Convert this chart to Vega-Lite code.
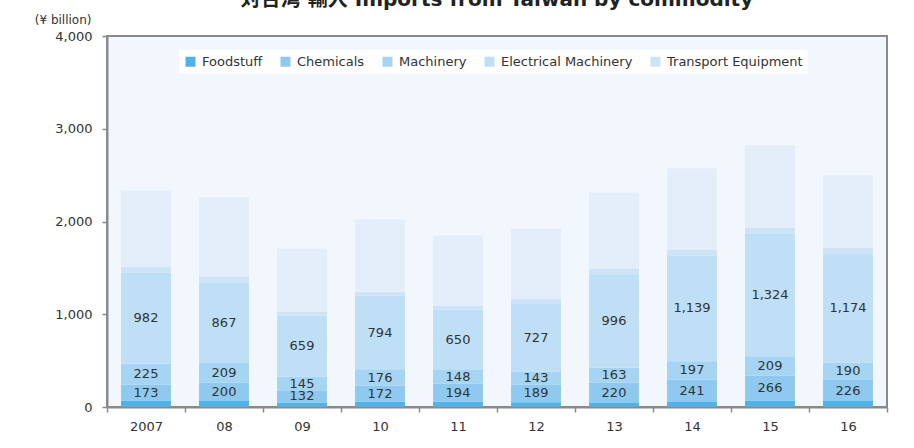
{
  "$schema": "https://vega.github.io/schema/vega-lite/v6.json",
  "autosize": "none",
  "width": 780,
  "height": 371,
  "padding": {"left": 107, "top": 36, "right": 27, "bottom": 41},
  "background": "white",
  "title": {
    "text": "対台湾 輸入 Imports from Taiwan by commodity",
    "anchor": "middle",
    "frame": "group",
    "offset": 5,
    "dy": 18,
    "baseline": "alphabetic",
    "fontSize": 20,
    "fontWeight": "bold",
    "font": "DejaVu Sans, Noto Sans CJK JP",
    "color": "#222222"
  },
  "datasets": {
    "imports": [
      {"year": "2007", "series": "Foodstuff", "value": 69},
      {"year": "2007", "series": "Chemicals", "value": 173},
      {"year": "2007", "series": "Machinery", "value": 225},
      {"year": "2007", "series": "Electrical Machinery", "value": 982},
      {"year": "2007", "series": "Transport Equipment", "value": 65},
      {"year": "2007", "series": "Others", "value": 821},
      {"year": "08", "series": "Foodstuff", "value": 65},
      {"year": "08", "series": "Chemicals", "value": 200},
      {"year": "08", "series": "Machinery", "value": 209},
      {"year": "08", "series": "Electrical Machinery", "value": 867},
      {"year": "08", "series": "Transport Equipment", "value": 64},
      {"year": "08", "series": "Others", "value": 854},
      {"year": "09", "series": "Foodstuff", "value": 48},
      {"year": "09", "series": "Chemicals", "value": 132},
      {"year": "09", "series": "Machinery", "value": 145},
      {"year": "09", "series": "Electrical Machinery", "value": 659},
      {"year": "09", "series": "Transport Equipment", "value": 43},
      {"year": "09", "series": "Others", "value": 681},
      {"year": "10", "series": "Foodstuff", "value": 58},
      {"year": "10", "series": "Chemicals", "value": 172},
      {"year": "10", "series": "Machinery", "value": 176},
      {"year": "10", "series": "Electrical Machinery", "value": 794},
      {"year": "10", "series": "Transport Equipment", "value": 43},
      {"year": "10", "series": "Others", "value": 779},
      {"year": "11", "series": "Foodstuff", "value": 57},
      {"year": "11", "series": "Chemicals", "value": 194},
      {"year": "11", "series": "Machinery", "value": 148},
      {"year": "11", "series": "Electrical Machinery", "value": 650},
      {"year": "11", "series": "Transport Equipment", "value": 43},
      {"year": "11", "series": "Others", "value": 757},
      {"year": "12", "series": "Foodstuff", "value": 52},
      {"year": "12", "series": "Chemicals", "value": 189},
      {"year": "12", "series": "Machinery", "value": 143},
      {"year": "12", "series": "Electrical Machinery", "value": 727},
      {"year": "12", "series": "Transport Equipment", "value": 53},
      {"year": "12", "series": "Others", "value": 760},
      {"year": "13", "series": "Foodstuff", "value": 44},
      {"year": "13", "series": "Chemicals", "value": 220},
      {"year": "13", "series": "Machinery", "value": 163},
      {"year": "13", "series": "Electrical Machinery", "value": 996},
      {"year": "13", "series": "Transport Equipment", "value": 65},
      {"year": "13", "series": "Others", "value": 826},
      {"year": "14", "series": "Foodstuff", "value": 55},
      {"year": "14", "series": "Chemicals", "value": 241},
      {"year": "14", "series": "Machinery", "value": 197},
      {"year": "14", "series": "Electrical Machinery", "value": 1139},
      {"year": "14", "series": "Transport Equipment", "value": 65},
      {"year": "14", "series": "Others", "value": 876},
      {"year": "15", "series": "Foodstuff", "value": 71},
      {"year": "15", "series": "Chemicals", "value": 266},
      {"year": "15", "series": "Machinery", "value": 209},
      {"year": "15", "series": "Electrical Machinery", "value": 1324},
      {"year": "15", "series": "Transport Equipment", "value": 65},
      {"year": "15", "series": "Others", "value": 887},
      {"year": "16", "series": "Foodstuff", "value": 64},
      {"year": "16", "series": "Chemicals", "value": 226},
      {"year": "16", "series": "Machinery", "value": 190},
      {"year": "16", "series": "Electrical Machinery", "value": 1174},
      {"year": "16", "series": "Transport Equipment", "value": 65},
      {"year": "16", "series": "Others", "value": 778}
    ],
    "seriesOrder": [
      {"series": "Foodstuff", "rank": 1},
      {"series": "Chemicals", "rank": 2},
      {"series": "Machinery", "rank": 3},
      {"series": "Electrical Machinery", "rank": 4},
      {"series": "Transport Equipment", "rank": 5},
      {"series": "Others", "rank": 6}
    ]
  },
  "data": {"name": "imports"},
  "transform": [
    {"lookup": "series", "from": {"data": {"name": "seriesOrder"}, "key": "series", "fields": ["rank"]}},
    {"stack": "value", "groupby": ["year"], "sort": [{"field": "rank", "order": "ascending"}], "as": ["v0", "v1"]}
  ],
  "encoding": {
    "x": {
      "field": "year",
      "type": "nominal",
      "sort": ["2007", "08", "09", "10", "11", "12", "13", "14", "15", "16"],
      "scale": {"paddingInner": 0, "paddingOuter": 0},
      "axis": {
        "title": null,
        "labelAngle": 0,
        "labelFontSize": 13,
        "labelColor": "#333333",
        "labelFont": "DejaVu Sans",
        "labelPadding": 8,
        "tickBand": "extent",
        "tickSize": 5,
        "tickColor": "#8a8a8a",
        "tickWidth": 1.5,
        "domainColor": "#8a8a8a",
        "domainWidth": 2
      }
    }
  },
  "layer": [
    {
      "mark": {"type": "bar", "width": {"band": 0.64}},
      "encoding": {
        "y": {
          "field": "v0",
          "type": "quantitative",
          "scale": {"domain": [0, 4000]},
          "axis": {
            "title": "(¥ billion)",
            "titleAngle": 0,
            "titleAlign": "right",
            "titleBaseline": "middle",
            "titleX": -16,
            "titleY": -17,
            "titleFontWeight": "normal",
            "titleFontSize": 12,
            "titleFont": "DejaVu Sans",
            "titleColor": "#333333",
            "values": [0, 1000, 2000, 3000, 4000],
            "format": ",d",
            "grid": false,
            "labelFontSize": 13,
            "labelFont": "DejaVu Sans",
            "labelColor": "#333333",
            "labelPadding": 10,
            "tickSize": 5,
            "tickColor": "#8a8a8a",
            "tickWidth": 1.5,
            "domainColor": "#8a8a8a",
            "domainWidth": 2
          }
        },
        "y2": {"field": "v1"},
        "color": {
          "field": "series",
          "type": "nominal",
          "scale": {
            "domain": ["Foodstuff", "Chemicals", "Machinery", "Electrical Machinery", "Transport Equipment", "Others"],
            "range": ["#4FB2E8", "#8FC9EF", "#A6D4F3", "#BEDFF6", "#CDE4F6", "#E3EEFA"]
          },
          "legend": {
            "title": null,
            "values": ["Foodstuff", "Chemicals", "Machinery", "Electrical Machinery", "Transport Equipment"],
            "orient": "none",
            "legendX": 72,
            "legendY": 14,
            "direction": "horizontal",
            "fillColor": "white",
            "padding": 5,
            "symbolType": "square",
            "symbolSize": 100,
            "symbolStrokeWidth": 0,
            "labelFontSize": 13,
            "labelFont": "DejaVu Sans",
            "labelColor": "#333333",
            "labelOffset": 5,
            "columnPadding": 16
          }
        }
      }
    },
    {
      "transform": [
        {"filter": {"field": "series", "oneOf": ["Chemicals", "Machinery", "Electrical Machinery"]}},
        {"fold": ["v0", "v1"], "as": ["edge", "pos"]}
      ],
      "mark": {"type": "text", "fontSize": 13, "font": "DejaVu Sans", "color": "#333333", "baseline": "middle"},
      "encoding": {
        "y": {"field": "pos", "type": "quantitative", "aggregate": "mean"},
        "text": {"field": "value", "type": "quantitative", "format": ","},
        "detail": {"field": "series", "type": "nominal"}
      }
    }
  ],
  "config": {
    "view": {"fill": "#F2F6FD", "stroke": "#8a8a8a", "strokeWidth": 2}
  }
}
